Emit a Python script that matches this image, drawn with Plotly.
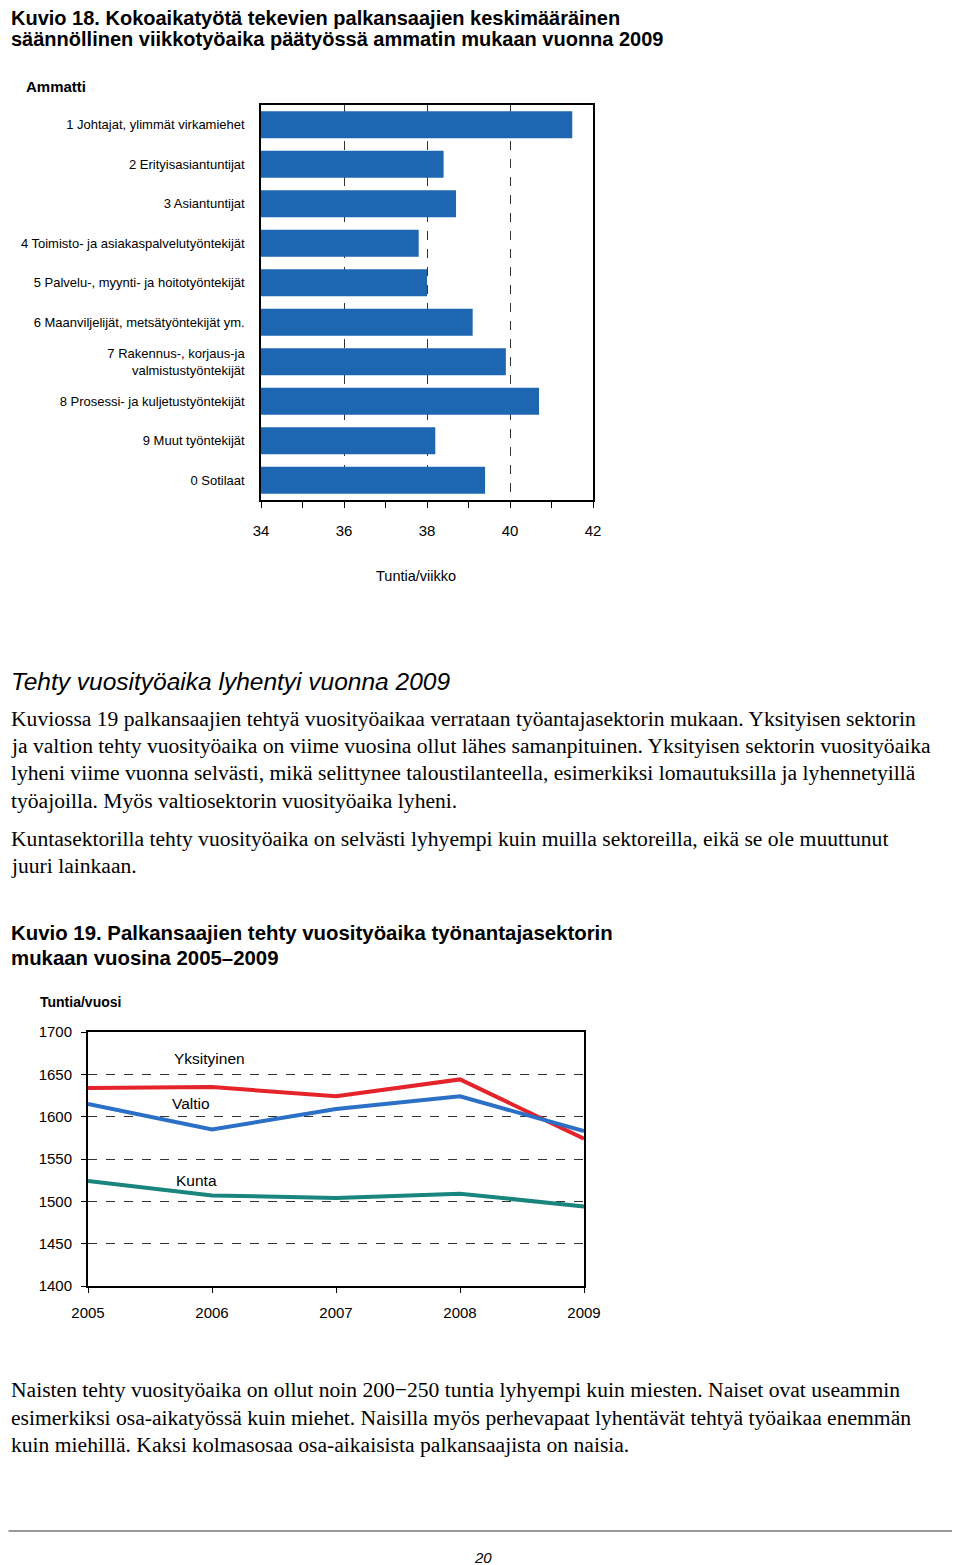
import plotly.graph_objects as go

# Page is 960x1565; the browser body adds an 8px margin, so the figure is
# drawn 8px smaller and all layout positions are shifted by that margin.
W, H = 960, 1565
OFF = 8
FW, FH = W - OFF, H - OFF

# ---- Chart 18 data ----
occupations = [
    "1 Johtajat, ylimmät virkamiehet",
    "2 Erityisasiantuntijat",
    "3 Asiantuntijat",
    "4 Toimisto- ja asiakaspalvelutyöntekijät",
    "5 Palvelu-, myynti- ja hoitotyöntekijät",
    "6 Maanviljelijät, metsätyöntekijät ym.",
    "7 Rakennus-, korjaus-ja<br>valmistustyöntekijät",
    "8 Prosessi- ja kuljetustyöntekijät",
    "9 Muut työntekijät",
    "0 Sotilaat",
]
hours_week = [41.5, 38.4, 38.7, 37.8, 38.0, 39.1, 39.9, 40.7, 38.2, 39.4]
x_ticks_18 = [34, 36, 38, 40, 42]

# ---- Chart 19 data ----
years = [2005, 2006, 2007, 2008, 2009]
yksityinen = [1634, 1635, 1624, 1644, 1574]
valtio = [1615, 1585, 1609, 1624, 1583]
kunta = [1524, 1507, 1504, 1509, 1494]
y_ticks_19 = [1400, 1450, 1500, 1550, 1600, 1650, 1700]

NARROW = "Liberation Sans Narrow, Liberation Sans, Arial, sans-serif"
SANS = "Liberation Sans, Arial, sans-serif"
SERIF = "Liberation Serif, Times New Roman, serif"

def px(x):
    return (x - OFF) / FW

def py(y):
    return 1 - (y - OFF) / FH

fig = go.Figure()

fig.add_trace(go.Bar(
    y=occupations, x=[v - 34 for v in hours_week], base=34, orientation="h",
    marker=dict(color="#1c66b2", line=dict(width=0)),
    xaxis="x", yaxis="y", showlegend=False, hoverinfo="skip",
))

line_series = [("Yksityinen", yksityinen, "#e4232a"),
               ("Valtio", valtio, "#2b6fc6"),
               ("Kunta", kunta, "#19857c")]
for name, vals, col in line_series:
    fig.add_trace(go.Scatter(
        x=years, y=vals, mode="lines", name=name,
        line=dict(color=col, width=4),
        xaxis="x2", yaxis="y2", showlegend=False,
    ))

fig.update_layout(
    template="none",
    width=FW, height=FH, margin=dict(l=0, r=0, t=0, b=0, autoexpand=False),
    paper_bgcolor="white", plot_bgcolor="white",
    bargap=0.32,
    xaxis=dict(
        domain=[px(261), px(593)], anchor="y", range=[34, 42], automargin=False,
        tickvals=x_ticks_18, ticks="outside", ticklen=6, tickcolor="black",
        minor=dict(dtick=1, ticks="outside", ticklen=6, tickcolor="black", showgrid=False),
        showgrid=True, gridcolor="#333", griddash="dash", gridwidth=1.2,
        showline=True, linecolor="black", linewidth=1.5, mirror=True,
        tickfont=dict(family=NARROW, size=15, color="black"),
        ticklabelstandoff=10, zeroline=False,
    ),
    yaxis=dict(
        domain=[py(500), py(105)], anchor="x", automargin=False,
        categoryorder="array", categoryarray=occupations, autorange="reversed",
        showline=True, linecolor="black", linewidth=1.5, mirror=True,
        ticks="", ticklabelstandoff=12, showgrid=False,
        tickfont=dict(family=NARROW, size=13, color="black"),
    ),
    xaxis2=dict(
        domain=[px(88), px(584)], anchor="y2", range=[2005, 2009], automargin=False,
        tickvals=years, ticks="outside", ticklen=5, tickcolor="black",
        showgrid=False, showline=True, linecolor="black", linewidth=1.5, mirror=True,
        tickfont=dict(family=NARROW, size=15, color="black"),
        ticklabelstandoff=7, zeroline=False,
    ),
    yaxis2=dict(
        domain=[py(1286), py(1032)], anchor="x2", range=[1400, 1700], automargin=False,
        tickvals=y_ticks_19, ticks="outside", ticklen=5, tickcolor="black",
        showgrid=True, gridcolor="#333", griddash="dash", gridwidth=1,
        showline=True, linecolor="black", linewidth=2, mirror=True,
        tickfont=dict(family=NARROW, size=15, color="black"),
        ticklabelstandoff=6, zeroline=False,
    ),
)

def txt(x, y, s, size, family=SANS, bold=False, italic=False, xanchor="left", color="black"):
    if bold:
        s = f"<b>{s}</b>"
    if italic:
        s = f"<i>{s}</i>"
    fig.add_annotation(x=px(x), y=py(y), xref="paper", yref="paper", text=s,
                       showarrow=False, xanchor=xanchor, yanchor="middle",
                       font=dict(family=family, size=size, color=color))

LX = 8.5  # left text edge (just inside the figure)

txt(LX, 18, "Kuvio 18. Kokoaikatyötä tekevien palkansaajien keskimääräinen", 20, bold=True)
txt(LX, 39, "säännöllinen viikkotyöaika päätyössä ammatin mukaan vuonna 2009", 20, bold=True)
txt(24, 87, "Ammatti", 15, family=NARROW, bold=True)
txt(416, 576, "Tuntia/viikko", 14.5, family=NARROW, xanchor="center")

txt(LX, 681, "Tehty vuosityöaika lyhentyi vuonna 2009", 24.5, italic=True)
body1 = [
    (719, "Kuviossa 19 palkansaajien tehtyä vuosityöaikaa verrataan työantajasektorin mukaan. Yksityisen sektorin"),
    (746, "ja valtion tehty vuosityöaika on viime vuosina ollut lähes samanpituinen. Yksityisen sektorin vuosityöaika"),
    (773, "lyheni viime vuonna selvästi, mikä selittynee taloustilanteella, esimerkiksi lomautuksilla ja lyhennetyillä"),
    (801, "työajoilla. Myös valtiosektorin vuosityöaika lyheni."),
    (839, "Kuntasektorilla tehty vuosityöaika on selvästi lyhyempi kuin muilla sektoreilla, eikä se ole muuttunut"),
    (866, "juuri lainkaan."),
    (1390, "Naisten tehty vuosityöaika on ollut noin 200−250 tuntia lyhyempi kuin miesten. Naiset ovat useammin"),
    (1418, "esimerkiksi osa-aikatyössä kuin miehet. Naisilla myös perhevapaat lyhentävät tehtyä työaikaa enemmän"),
    (1445, "kuin miehillä. Kaksi kolmasosaa osa-aikaisista palkansaajista on naisia."),
]
for y, s in body1:
    txt(LX, y, s, 21.6, family=SERIF)

txt(LX, 933, "Kuvio 19. Palkansaajien tehty vuosityöaika työnantajasektorin", 20.4, bold=True)
txt(LX, 958, "mukaan vuosina 2005–2009", 20.4, bold=True)
txt(38, 1002, "Tuntia/vuosi", 14, family=NARROW, bold=True)

txt(172, 1058, "Yksityinen", 15.5, family=NARROW)
txt(170, 1103, "Valtio", 15.5, family=NARROW)
txt(174, 1180, "Kunta", 15.5, family=NARROW)

fig.add_shape(type="line", xref="paper", yref="paper",
              x0=px(8.5), x1=px(958), y0=py(1531), y1=py(1531),
              line=dict(color="#999999", width=2))
txt(483, 1557, "20", 15, italic=True, xanchor="center")

fig.write_html("out.html")
